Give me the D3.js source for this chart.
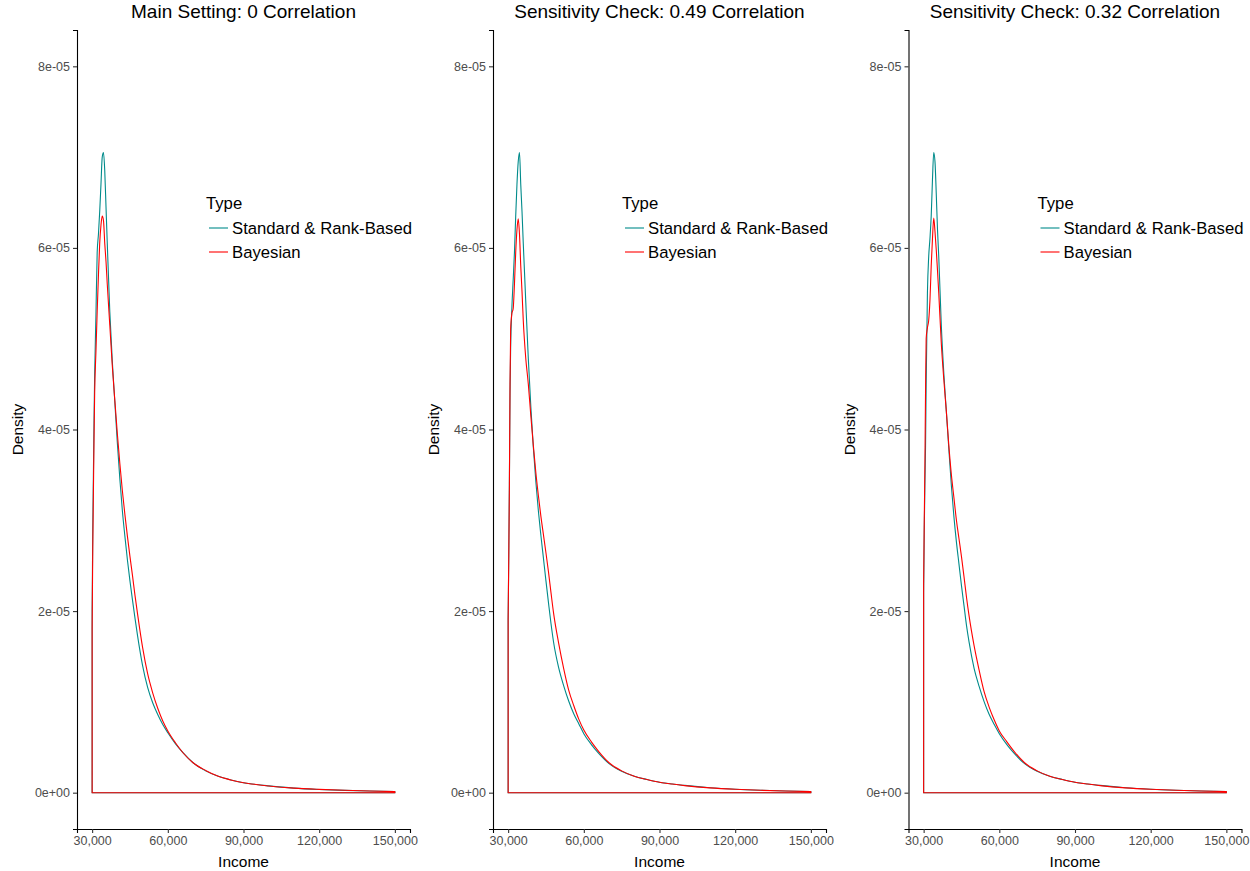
<!DOCTYPE html>
<html>
<head>
<meta charset="utf-8">
<script src="https://cdnjs.cloudflare.com/ajax/libs/d3/7.8.5/d3.min.js"></script>
<style>
  body { margin: 0; background: #fff; }
  svg text { font-family: "Liberation Sans", Arial, sans-serif; }
</style>
</head>
<body>
<div id="chart"></div>
<script>
var svgWidth = 1250;
var svgHeight = 871;

// income grid shared by all density curves
var incomes = [30000, 30250, 30500, 30750, 31000, 31500, 32000, 32500, 33000, 33500,
  34000, 34500, 35000, 35500, 36000, 37000, 38000, 39000, 40000, 41000,
  42000, 43000, 44000, 45000, 46000, 47000, 48000, 50000, 52000, 54000,
  56000, 58000, 60000, 63000, 66000, 70000, 75000, 80000, 85000, 90000,
  95000, 100000, 110000, 120000, 130000, 140000, 150000];

// densities, in units of 1e-05
var mainStandard = [2.0, 2.9, 3.5, 4.1, 4.6, 5.25, 5.95, 6.15, 6.4, 6.7,
  7.0, 7.05, 6.85, 6.45, 6.05, 5.3, 4.75, 4.3, 3.85, 3.45,
  3.1, 2.82, 2.56, 2.33, 2.12, 1.92, 1.73, 1.4, 1.16, 0.99,
  0.86, 0.75, 0.66, 0.54, 0.44, 0.33, 0.24, 0.18, 0.14, 0.11,
  0.09, 0.075, 0.05, 0.035, 0.025, 0.018, 0.013];
var mainBayes = [1.8, 2.7, 3.3, 3.9, 4.4, 4.85, 5.3, 5.7, 6.05, 6.25,
  6.35, 6.3, 6.05, 5.85, 5.6, 5.15, 4.7, 4.32, 3.95, 3.62,
  3.32, 3.06, 2.82, 2.6, 2.39, 2.17, 1.97, 1.6, 1.31, 1.1,
  0.93, 0.79, 0.68, 0.55, 0.44, 0.33, 0.245, 0.18, 0.14, 0.11,
  0.09, 0.074, 0.05, 0.036, 0.026, 0.018, 0.012];

var sens49Standard = [1.9, 2.6, 3.4, 4.4, 4.9, 5.35, 5.65, 5.95, 6.35, 6.7,
  6.95, 7.05, 6.7, 6.4, 6.05, 5.4, 4.78, 4.25, 3.8, 3.42,
  3.1, 2.83, 2.58, 2.33, 2.09, 1.86, 1.66, 1.38, 1.18, 1.01,
  0.87, 0.76, 0.65, 0.53, 0.43, 0.32, 0.235, 0.18, 0.145, 0.115,
  0.095, 0.08, 0.055, 0.038, 0.027, 0.019, 0.013];
var sens49Bayes = [1.9, 2.6, 3.4, 4.5, 5.1, 5.28, 5.33, 5.6, 5.95, 6.2,
  6.32, 6.15, 5.8, 5.52, 5.2, 4.78, 4.5, 4.15, 3.82, 3.52,
  3.27, 3.04, 2.84, 2.64, 2.43, 2.2, 1.98, 1.65, 1.37, 1.13,
  0.96, 0.81, 0.69, 0.56, 0.45, 0.33, 0.24, 0.18, 0.145, 0.115,
  0.095, 0.078, 0.053, 0.037, 0.026, 0.018, 0.012];

var sens32Standard = [2.2, 2.9, 3.4, 3.8, 4.5, 5.5, 5.9, 6.1, 6.35, 6.75,
  7.05, 6.95, 6.6, 6.2, 5.9, 5.15, 4.62, 4.2, 3.78, 3.38,
  3.04, 2.76, 2.52, 2.28, 2.06, 1.84, 1.66, 1.37, 1.17, 1.0,
  0.86, 0.75, 0.65, 0.53, 0.43, 0.32, 0.235, 0.18, 0.145, 0.115,
  0.095, 0.08, 0.055, 0.038, 0.027, 0.019, 0.013];
var sens32Bayes = [2.3, 3.0, 3.6, 4.4, 5.0, 5.12, 5.2, 5.42, 5.8, 6.1,
  6.33, 6.18, 5.98, 5.75, 5.5, 4.95, 4.55, 4.2, 3.82, 3.5,
  3.25, 3.0, 2.8, 2.6, 2.38, 2.15, 1.95, 1.62, 1.35, 1.11,
  0.94, 0.8, 0.68, 0.56, 0.45, 0.33, 0.24, 0.18, 0.145, 0.115,
  0.095, 0.078, 0.053, 0.037, 0.026, 0.018, 0.012];

var panelTitles = ["Main Setting: 0 Correlation",
  "Sensitivity Check: 0.49 Correlation",
  "Sensitivity Check: 0.32 Correlation"];
var panelSeries = [[mainStandard, mainBayes], [sens49Standard, sens49Bayes], [sens32Standard, sens32Bayes]];

var seriesNames = ["Standard & Rank-Based", "Bayesian"];
var seriesColors = ["#008B8B", "#FF0000"];

var xTicks = [30000, 60000, 90000, 120000, 150000];
var yTicks = [0, 2e-5, 4e-5, 6e-5, 8e-5];
var yTickLabels = ["0e+00", "2e-05", "4e-05", "6e-05", "8e-05"];

// panel placement (left edge of each panel's plotting area)
var panelLefts = [77, 493, 908.5];
var panelWidth = 333;
var panelTop = 30;
var panelBottom = 829;

var svg = d3.select("#chart")
  .append("svg")
  .attr("width", svgWidth)
  .attr("height", svgHeight);

panelTitles.forEach(function(title, i) {
  var left = panelLefts[i];

  // 5% expansion like ggplot
  var x = d3.scaleLinear()
    .domain([30000 - 6000, 150000 + 6000])
    .range([left, left + panelWidth]);
  var y = d3.scaleLinear()
    .domain([-4e-6, 8.4e-5])
    .range([panelBottom, panelTop]);

  var g = svg.append("g");

  // density outlines, closed along zero like geom_density
  var line = d3.line()
    .x(d => x(d[0]))
    .y(d => y(d[1]))
    .curve(d3.curveMonotoneX);

  panelSeries[i].forEach(function(vals, s) {
    var pts = incomes.map((inc, k) => [inc, vals[k] * 1e-5]);
    var x0 = x(incomes[0]), x1 = x(incomes[incomes.length - 1]), y0 = y(0);
    var d = `M${x0},${y0}L` + line(pts).slice(1) + `L${x1},${y0}Z`;
    g.append("path")
      .attr("d", d)
      .attr("fill", "none")
      .attr("stroke", seriesColors[s])
      .attr("stroke-width", 1.1)
      .attr("stroke-linejoin", "round");
  });

  // axes
  var bottomAxis = d3.axisBottom(x)
    .tickValues(xTicks)
    .tickFormat(d3.format(","))
    .tickSizeOuter(0)
    .tickSize(4)
    .tickPadding(3);
  var leftAxis = d3.axisLeft(y)
    .tickValues(yTicks)
    .tickFormat((d, k) => yTickLabels[k])
    .tickSizeOuter(0)
    .tickSize(4)
    .tickPadding(3);

  var xAxis = g.append("g")
    .attr("transform", `translate(0, ${panelBottom})`)
    .call(bottomAxis);
  var yAxis = g.append("g")
    .attr("transform", `translate(${left}, 0)`)
    .call(leftAxis);

  [xAxis, yAxis].forEach(function(ax) {
    ax.select(".domain").attr("stroke", "#000").attr("stroke-width", 1.1);
    ax.selectAll(".tick line").attr("stroke", "#333").attr("stroke-width", 1.1);
    ax.selectAll(".tick text")
      .attr("fill", "#4D4D4D")
      .style("font-size", "12.5px")
      .style("font-family", "'Liberation Sans', Arial, sans-serif");
  });

  // titles
  g.append("text")
    .attr("x", left + panelWidth / 2)
    .attr("y", 18)
    .attr("text-anchor", "middle")
    .style("font-size", "19px")
    .attr("fill", "#000")
    .text(title);

  g.append("text")
    .attr("x", left + panelWidth / 2)
    .attr("y", 867)
    .attr("text-anchor", "middle")
    .style("font-size", "15.5px")
    .attr("fill", "#000")
    .text("Income");

  g.append("text")
    .attr("transform", `translate(${left - 54}, ${(panelTop + panelBottom) / 2}) rotate(-90)`)
    .attr("text-anchor", "middle")
    .style("font-size", "15.5px")
    .attr("fill", "#000")
    .text("Density");

  // legend
  var legend = g.append("g")
    .attr("transform", `translate(${left + 129}, 0)`);
  legend.append("text")
    .attr("x", 0)
    .attr("y", 209)
    .style("font-size", "16.7px")
    .attr("fill", "#000")
    .text("Type");
  seriesNames.forEach(function(name, s) {
    var ly = 228 + s * 24;
    legend.append("line")
      .attr("x1", 3).attr("x2", 22)
      .attr("y1", ly).attr("y2", ly)
      .attr("stroke", seriesColors[s])
      .attr("stroke-width", 1.1);
    legend.append("text")
      .attr("x", 26)
      .attr("y", ly + 6)
      .style("font-size", "16.7px")
      .attr("fill", "#000")
      .text(name);
  });
});
</script>
</body>
</html>
